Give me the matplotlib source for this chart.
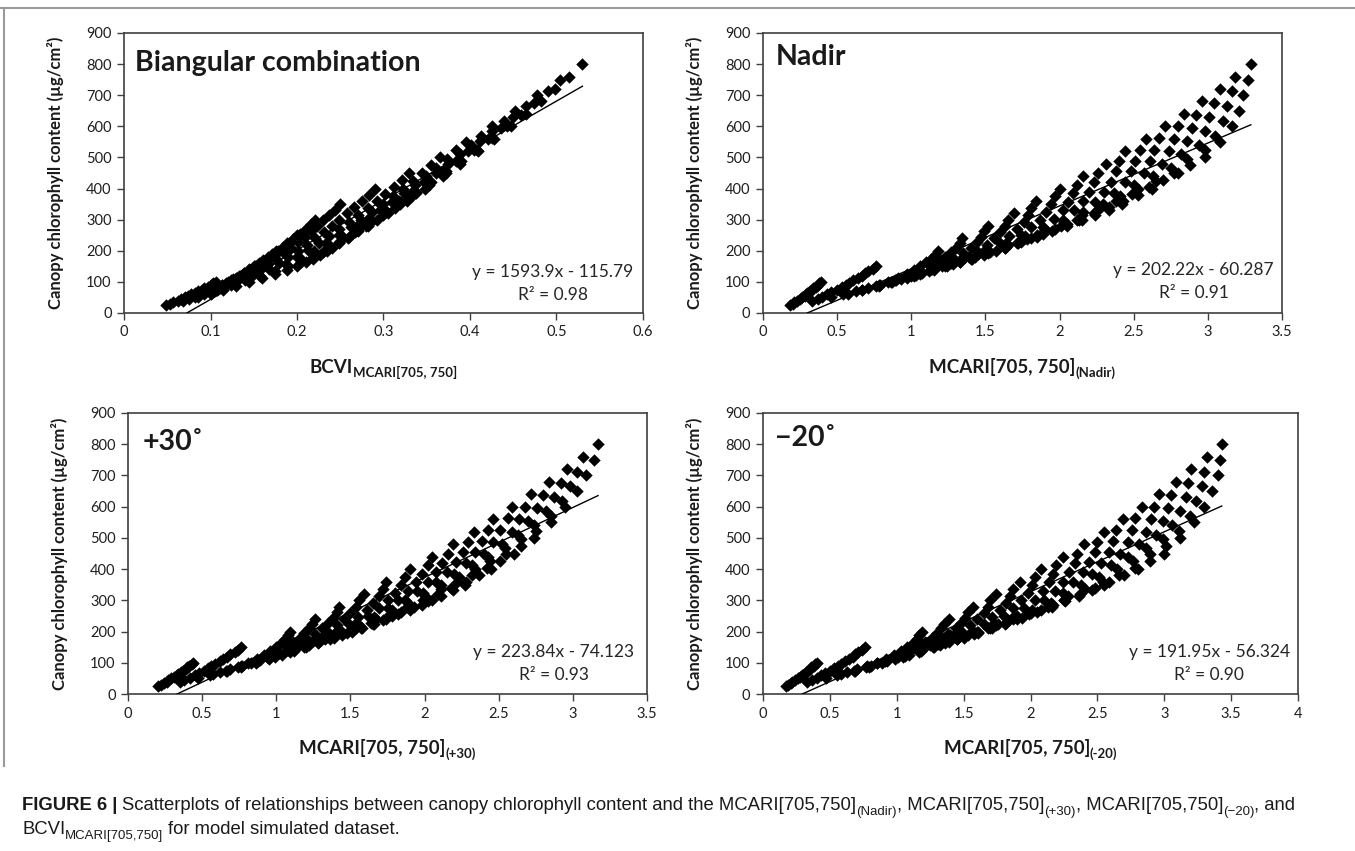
import numpy as np
import matplotlib
matplotlib.use("Agg")
import matplotlib.pyplot as plt
from matplotlib.lines import Line2D
from matplotlib.transforms import IdentityTransform

# simulated grid: leaf area index rows x leaf chlorophyll columns
LAI = [1.0, 1.5, 2.0, 2.5, 3.0, 3.5, 4.0, 4.5, 5.0, 5.5, 6.0, 6.5, 7.0, 7.5, 8.0]
CAB = [25, 30, 35, 40, 45, 50, 55, 60, 65, 70, 75, 80, 85, 90, 95, 100]

# index values, one row per LAI, one column per Cab
BCVI = [
    [0.048, 0.053, 0.057, 0.062, 0.066, 0.070, 0.074, 0.078, 0.082, 0.086, 0.090, 0.093, 0.097, 0.100, 0.103, 0.106],
    [0.068, 0.075, 0.082, 0.088, 0.094, 0.101, 0.107, 0.113, 0.118, 0.124, 0.129, 0.134, 0.139, 0.144, 0.149, 0.153],
    [0.085, 0.092, 0.100, 0.107, 0.113, 0.120, 0.126, 0.133, 0.139, 0.145, 0.150, 0.156, 0.161, 0.166, 0.171, 0.176],
    [0.100, 0.108, 0.116, 0.124, 0.131, 0.138, 0.146, 0.152, 0.159, 0.166, 0.172, 0.178, 0.184, 0.189, 0.195, 0.200],
    [0.115, 0.124, 0.132, 0.140, 0.148, 0.156, 0.163, 0.170, 0.178, 0.184, 0.191, 0.198, 0.204, 0.210, 0.216, 0.221],
    [0.130, 0.140, 0.149, 0.158, 0.167, 0.176, 0.185, 0.193, 0.201, 0.209, 0.216, 0.223, 0.230, 0.237, 0.244, 0.250],
    [0.145, 0.157, 0.168, 0.179, 0.190, 0.201, 0.211, 0.221, 0.231, 0.240, 0.249, 0.258, 0.266, 0.275, 0.283, 0.290],
    [0.160, 0.174, 0.187, 0.200, 0.213, 0.225, 0.237, 0.249, 0.260, 0.271, 0.282, 0.292, 0.302, 0.312, 0.321, 0.330],
    [0.175, 0.190, 0.205, 0.220, 0.234, 0.248, 0.262, 0.274, 0.287, 0.300, 0.311, 0.323, 0.334, 0.345, 0.355, 0.365],
    [0.188, 0.205, 0.221, 0.237, 0.252, 0.268, 0.282, 0.296, 0.310, 0.324, 0.336, 0.349, 0.361, 0.373, 0.384, 0.395],
    [0.200, 0.218, 0.236, 0.253, 0.270, 0.286, 0.302, 0.318, 0.333, 0.347, 0.361, 0.375, 0.388, 0.401, 0.413, 0.425],
    [0.210, 0.230, 0.249, 0.267, 0.285, 0.303, 0.320, 0.337, 0.353, 0.369, 0.384, 0.398, 0.412, 0.426, 0.439, 0.452],
    [0.219, 0.240, 0.260, 0.280, 0.300, 0.319, 0.337, 0.355, 0.372, 0.389, 0.405, 0.421, 0.436, 0.450, 0.465, 0.478],
    [0.227, 0.249, 0.271, 0.292, 0.313, 0.333, 0.353, 0.372, 0.390, 0.408, 0.426, 0.443, 0.459, 0.474, 0.490, 0.504],
    [0.235, 0.259, 0.282, 0.305, 0.327, 0.348, 0.369, 0.389, 0.409, 0.428, 0.447, 0.465, 0.482, 0.498, 0.515, 0.530],
]
NADIR = [
    [0.18, 0.20, 0.21, 0.23, 0.25, 0.26, 0.28, 0.29, 0.30, 0.32, 0.33, 0.34, 0.36, 0.37, 0.38, 0.39],
    [0.33, 0.37, 0.40, 0.43, 0.46, 0.50, 0.53, 0.56, 0.58, 0.61, 0.64, 0.67, 0.69, 0.71, 0.74, 0.76],
    [0.46, 0.54, 0.63, 0.71, 0.78, 0.86, 0.93, 1.00, 1.07, 1.14, 1.21, 1.27, 1.33, 1.39, 1.45, 1.50],
    [0.57, 0.67, 0.78, 0.87, 0.97, 1.06, 1.15, 1.24, 1.33, 1.41, 1.49, 1.57, 1.64, 1.71, 1.78, 1.85],
    [0.67, 0.79, 0.90, 1.02, 1.12, 1.23, 1.33, 1.43, 1.53, 1.63, 1.72, 1.81, 1.89, 1.97, 2.05, 2.13],
    [0.76, 0.89, 1.03, 1.15, 1.28, 1.40, 1.52, 1.63, 1.74, 1.85, 1.95, 2.05, 2.15, 2.24, 2.33, 2.42],
    [0.84, 0.98, 1.13, 1.26, 1.39, 1.52, 1.65, 1.77, 1.89, 2.01, 2.12, 2.23, 2.33, 2.43, 2.53, 2.62],
    [0.91, 1.06, 1.21, 1.36, 1.50, 1.64, 1.77, 1.90, 2.03, 2.15, 2.27, 2.38, 2.49, 2.60, 2.70, 2.80],
    [0.97, 1.13, 1.29, 1.44, 1.60, 1.74, 1.89, 2.02, 2.16, 2.29, 2.41, 2.53, 2.65, 2.77, 2.88, 2.98],
    [1.02, 1.19, 1.35, 1.51, 1.66, 1.81, 1.96, 2.10, 2.24, 2.37, 2.50, 2.63, 2.75, 2.86, 2.98, 3.08],
    [1.06, 1.23, 1.40, 1.56, 1.71, 1.87, 2.02, 2.16, 2.30, 2.44, 2.57, 2.69, 2.82, 2.94, 3.05, 3.16],
    [1.10, 1.27, 1.44, 1.60, 1.76, 1.91, 2.06, 2.20, 2.35, 2.48, 2.61, 2.74, 2.86, 2.98, 3.10, 3.21],
    [1.13, 1.30, 1.47, 1.63, 1.79, 1.94, 2.09, 2.23, 2.38, 2.51, 2.64, 2.77, 2.89, 3.01, 3.13, 3.24],
    [1.16, 1.33, 1.49, 1.65, 1.81, 1.97, 2.12, 2.26, 2.40, 2.54, 2.67, 2.80, 2.92, 3.04, 3.16, 3.27],
    [1.18, 1.34, 1.52, 1.69, 1.84, 2.00, 2.16, 2.31, 2.44, 2.58, 2.71, 2.84, 2.96, 3.08, 3.18, 3.29],
]
PLUS30 = [
    [0.20, 0.22, 0.24, 0.26, 0.27, 0.29, 0.31, 0.33, 0.34, 0.36, 0.37, 0.39, 0.40, 0.41, 0.43, 0.44],
    [0.35, 0.38, 0.42, 0.45, 0.48, 0.51, 0.54, 0.56, 0.59, 0.62, 0.64, 0.67, 0.69, 0.72, 0.74, 0.76],
    [0.47, 0.55, 0.62, 0.69, 0.76, 0.83, 0.89, 0.96, 1.02, 1.08, 1.14, 1.19, 1.25, 1.30, 1.35, 1.40],
    [0.57, 0.67, 0.76, 0.86, 0.95, 1.04, 1.12, 1.20, 1.28, 1.36, 1.44, 1.51, 1.58, 1.65, 1.72, 1.78],
    [0.66, 0.77, 0.88, 0.99, 1.09, 1.19, 1.29, 1.39, 1.48, 1.57, 1.66, 1.74, 1.82, 1.90, 1.98, 2.05],
    [0.74, 0.86, 0.99, 1.10, 1.22, 1.33, 1.44, 1.54, 1.64, 1.74, 1.84, 1.93, 2.02, 2.11, 2.19, 2.27],
    [0.81, 0.94, 1.07, 1.20, 1.32, 1.44, 1.56, 1.67, 1.78, 1.88, 1.99, 2.09, 2.18, 2.28, 2.37, 2.45],
    [0.87, 1.01, 1.15, 1.28, 1.41, 1.53, 1.66, 1.78, 1.89, 2.00, 2.11, 2.22, 2.32, 2.42, 2.51, 2.60],
    [0.92, 1.07, 1.21, 1.35, 1.49, 1.62, 1.75, 1.87, 1.99, 2.11, 2.23, 2.34, 2.44, 2.55, 2.65, 2.74],
    [0.96, 1.11, 1.26, 1.41, 1.55, 1.69, 1.82, 1.95, 2.08, 2.20, 2.32, 2.43, 2.54, 2.65, 2.75, 2.85],
    [1.00, 1.16, 1.31, 1.46, 1.61, 1.75, 1.89, 2.02, 2.15, 2.28, 2.40, 2.52, 2.63, 2.74, 2.85, 2.95],
    [1.03, 1.19, 1.35, 1.50, 1.65, 1.80, 1.94, 2.08, 2.21, 2.34, 2.46, 2.59, 2.70, 2.82, 2.93, 3.03],
    [1.06, 1.22, 1.38, 1.54, 1.69, 1.84, 1.98, 2.12, 2.26, 2.39, 2.51, 2.64, 2.76, 2.87, 2.98, 3.09],
    [1.08, 1.24, 1.41, 1.56, 1.72, 1.87, 2.02, 2.16, 2.29, 2.43, 2.56, 2.68, 2.80, 2.92, 3.03, 3.14],
    [1.09, 1.26, 1.42, 1.59, 1.74, 1.90, 2.05, 2.19, 2.33, 2.46, 2.59, 2.72, 2.84, 2.96, 3.07, 3.17],
]
MINUS20 = [
    [0.17, 0.19, 0.21, 0.22, 0.24, 0.26, 0.28, 0.29, 0.31, 0.32, 0.34, 0.35, 0.36, 0.38, 0.39, 0.40],
    [0.33, 0.37, 0.40, 0.43, 0.46, 0.50, 0.53, 0.56, 0.58, 0.61, 0.64, 0.67, 0.69, 0.71, 0.74, 0.76],
    [0.47, 0.55, 0.63, 0.70, 0.78, 0.85, 0.92, 0.98, 1.05, 1.11, 1.17, 1.23, 1.29, 1.35, 1.40, 1.45],
    [0.58, 0.69, 0.79, 0.89, 0.99, 1.09, 1.18, 1.27, 1.36, 1.45, 1.53, 1.61, 1.68, 1.76, 1.83, 1.90],
    [0.68, 0.81, 0.93, 1.05, 1.17, 1.28, 1.39, 1.50, 1.61, 1.71, 1.81, 1.90, 1.99, 2.08, 2.17, 2.25],
    [0.77, 0.91, 1.06, 1.19, 1.32, 1.45, 1.58, 1.70, 1.82, 1.94, 2.05, 2.16, 2.26, 2.36, 2.46, 2.55],
    [0.85, 1.01, 1.16, 1.31, 1.46, 1.60, 1.74, 1.87, 2.00, 2.13, 2.25, 2.37, 2.48, 2.59, 2.70, 2.80],
    [0.92, 1.09, 1.25, 1.41, 1.57, 1.72, 1.87, 2.01, 2.15, 2.28, 2.41, 2.54, 2.66, 2.78, 2.89, 3.00],
    [0.98, 1.15, 1.32, 1.49, 1.65, 1.80, 1.95, 2.10, 2.24, 2.38, 2.51, 2.65, 2.77, 2.89, 3.01, 3.12],
    [1.03, 1.21, 1.38, 1.55, 1.71, 1.87, 2.03, 2.18, 2.32, 2.46, 2.60, 2.73, 2.86, 2.99, 3.11, 3.22],
    [1.08, 1.26, 1.44, 1.60, 1.77, 1.93, 2.09, 2.24, 2.39, 2.53, 2.67, 2.81, 2.94, 3.06, 3.19, 3.30],
    [1.12, 1.30, 1.48, 1.65, 1.82, 1.98, 2.14, 2.29, 2.44, 2.59, 2.73, 2.86, 2.99, 3.12, 3.24, 3.36],
    [1.15, 1.33, 1.51, 1.68, 1.85, 2.01, 2.17, 2.33, 2.48, 2.62, 2.76, 2.90, 3.03, 3.16, 3.28, 3.40],
    [1.17, 1.35, 1.53, 1.70, 1.87, 2.03, 2.19, 2.35, 2.50, 2.64, 2.78, 2.92, 3.05, 3.18, 3.30, 3.42],
    [1.19, 1.39, 1.57, 1.74, 1.92, 2.08, 2.24, 2.40, 2.55, 2.69, 2.83, 2.96, 3.09, 3.20, 3.32, 3.43],
]

# linear fits as printed on the panels
FITS = {
    "bcvi": (1593.9, -115.79, "y = 1593.9x - 115.79", "R² = 0.98"),
    "nadir": (202.22, -60.287, "y = 202.22x - 60.287", "R² = 0.91"),
    "plus30": (223.84, -74.123, "y = 223.84x - 74.123", "R² = 0.93"),
    "minus20": (191.95, -56.324, "y = 191.95x - 56.324", "R² = 0.90"),
}

W, H = 1355, 851
FONT = ["Lato", "DejaVu Sans"]
CAP_FONT = ["Liberation Sans", "DejaVu Sans"]
INK = "#1a1a1a"
plt.rcParams["font.family"] = FONT

fig = plt.figure(figsize=(W / 100, H / 100), dpi=100)
renderer = fig.canvas.get_renderer()


def rich(x, y, parts, family, ha="left"):
    # parts: (text, size, weight, drop_px, gap_px); x, y in image pixels (y = baseline)
    items = []
    total = 0
    for s, size, weight, drop, gap in parts:
        t = fig.text(0, 0, s, fontsize=size, fontweight=weight, family=family,
                     transform=IdentityTransform(), va="baseline", ha="left", color=INK)
        w = t.get_window_extent(renderer).width
        items.append((t, w, drop, gap))
        total += w + gap
    x0 = x - total / 2 if ha == "center" else x
    for t, w, drop, gap in items:
        x0 += gap
        t.set_position((x0, H - y - drop))
        x0 += w
    return items, total


panels = [
    # key, data, box (left, right, top, bottom px), xmax, xtick labels, corner label + pos, eq pos, title parts
    ("bcvi", BCVI, (124, 643, 33, 313), 0.6, ["0", "0.1", "0.2", "0.3", "0.4", "0.5", "0.6"],
     "Biangular combination", (0.022, 0.893), (0.826, 0.146, 0.064),
     [("BCVI", 13.5, "bold", 0, 0), ("MCARI[705, 750]", 9.5, "bold", 4, 0)]),
    ("nadir", NADIR, (763, 1282, 33, 313), 3.5, ["0", "0.5", "1", "1.5", "2", "2.5", "3", "3.5"],
     "Nadir", (0.024, 0.914), (0.83, 0.155, 0.071),
     [("MCARI[705, 750]", 13.5, "bold", 0, 0), ("(Nadir)", 9.5, "bold", 4, 0)]),
    ("plus30", PLUS30, (128, 647, 413, 694), 3.5, ["0", "0.5", "1", "1.5", "2", "2.5", "3", "3.5"],
     "+30˚", (0.028, 0.897), (0.82, 0.15, 0.068),
     [("MCARI[705, 750]", 13.5, "bold", 0, 0), ("(+30)", 9.5, "bold", 4, 0)]),
    ("minus20", MINUS20, (763, 1298, 413, 694), 4.0, ["0", "0.5", "1", "1.5", "2", "2.5", "3", "3.5", "4"],
     "−20˚", (0.022, 0.911), (0.834, 0.15, 0.068),
     [("MCARI[705, 750]", 13.5, "bold", 0, 0), ("(-20)", 9.5, "bold", 4, 0)]),
]

y_grid = np.outer(LAI, CAB)

for key, table, (l, r, t, b), xmax, xlabels, corner, cpos, epos, title in panels:
    ax = fig.add_axes([l / W, 1 - b / H, (r - l) / W, (b - t) / H])
    xv = np.array(table)
    ax.scatter(xv.ravel(), y_grid.ravel(), marker="D", s=40, c="black", linewidths=0, zorder=3)
    slope, icpt, eq, r2 = FITS[key]
    x_end = xv.max()
    ax.plot([-icpt / slope, x_end], [0, slope * x_end + icpt], color="black", lw=1.0, zorder=4)
    ax.set_xlim(0, xmax)
    ax.set_ylim(0, 900)
    ax.set_xticks(np.linspace(0, xmax, len(xlabels)))
    ax.set_xticklabels(xlabels)
    ax.set_yticks(range(0, 901, 100))
    ax.tick_params(direction="out", length=5, width=1, color="#404040",
                   labelsize=10.5, labelcolor="#1f1f1f", pad=4)
    for sp in ax.spines.values():
        sp.set_color("#404040")
        sp.set_linewidth(1.2)
    ax.set_ylabel("Canopy chlorophyll content (µg/cm²)", fontsize=12, fontweight="bold", color=INK)
    ax.yaxis.set_label_coords(-60 / (r - l), 0.5)
    ax.text(cpos[0], cpos[1], corner, transform=ax.transAxes, fontsize=20.5, fontweight="bold",
            va="center", ha="left", color=INK)
    ax.text(epos[0], epos[1], eq, transform=ax.transAxes, fontsize=12.5, ha="center", va="center", color="#262626")
    ax.text(epos[0], epos[2], r2, transform=ax.transAxes, fontsize=12.5, ha="center", va="center", color="#262626")
    rich((l + r) / 2, b + 60, title, FONT, ha="center")

# figure frame
fig.add_artist(Line2D([0, 1], [1 - 8 / H, 1 - 8 / H], transform=fig.transFigure, color="#9a9a9a", lw=1.5))
fig.add_artist(Line2D([4 / W, 4 / W], [1 - 8 / H, 1 - 766 / H], transform=fig.transFigure, color="#9a9a9a", lw=1.5))


# caption, sized so the first line ends under the right-hand panels
def caption_parts(cs):
    sub = cs * 0.72
    drop = cs * 0.35
    line1 = [("FIGURE 6 |", cs, "bold", 0, 0),
             ("Scatterplots of relationships between canopy chlorophyll content and the MCARI[705,750]", cs, "normal", 0, cs * 0.35),
             ("(Nadir)", sub, "normal", drop, 0),
             (", MCARI[705,750]", cs, "normal", 0, 0),
             ("(+30)", sub, "normal", drop, 0),
             (", MCARI[705,750]", cs, "normal", 0, 0),
             ("(−20)", sub, "normal", drop, 0),
             (", and", cs, "normal", 0, 0)]
    line2 = [("BCVI", cs, "normal", 0, 0),
             ("MCARI[705,750]", sub, "normal", drop, 0),
             ("for model simulated dataset.", cs, "normal", 0, cs * 0.35)]
    return line1, line2


probe, width = rich(0, -100, caption_parts(10)[0], CAP_FONT)
for t, *_ in probe:
    t.remove()
cs = 10 * (1298 - 22) / width
line1, line2 = caption_parts(cs)
rich(22, 810, line1, CAP_FONT)
rich(22, 834, line2, CAP_FONT)

fig.savefig("out.png", dpi=100)
